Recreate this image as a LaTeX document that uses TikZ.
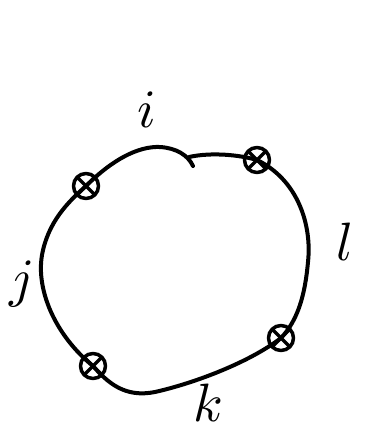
\documentclass[tikz,border=0pt]{standalone}
\usepackage{tikz}
\usetikzlibrary{shapes,positioning}
\newcommand{\biglbl}[1]{\scalebox{5.4}{$#1$}}

\begin{document}
\begin{tikzpicture}[x=1pt, y=-1pt, line cap=round, line join=round,
    loop/.style={line width=4pt},
    marker/.style={circle, draw, line width=3.5pt, minimum size=25pt, inner sep=0pt,
        path picture={\draw[line width=3.5pt] (path picture bounding box.south west) -- (path picture bounding box.north east);
                      \draw[line width=3.5pt] (path picture bounding box.north west) -- (path picture bounding box.south east);}},
    lbl/.style={inner sep=0pt}]
    \useasboundingbox (0,0) rectangle (372,434);

    % the four marked points
    \node[marker] (pij) at (86,186) {};
    \node[marker] (pil) at (257,160) {};
    \node[marker] (pkl) at (281,338) {};
    \node[marker] (pjk) at (93,366) {};

    % ends of the small break on top
    \coordinate (gapa) at (193,166);
    \coordinate (gapb) at (189,157);

    % the loop
    \draw[loop] (pij.center) .. controls (112,160) and (138,146) .. (160,147)
        .. controls (176,148) and (188,155) .. (gapa);
    \draw[loop] (gapb) .. controls (212,152) and (240,155) .. (pil.center);
    \draw[loop] (pil.center) .. controls (298,180) and (312,225) .. (308,262)
        .. controls (305,295) and (298,320) .. (pkl.center);
    \draw[loop] (pkl.center) .. controls (250,362) and (195,383) .. (155,392)
        .. controls (125,398) and (108,383) .. (pjk.center);
    \draw[loop] (pjk.center) .. controls (55,335) and (36,290) .. (42,255)
        .. controls (48,222) and (68,202) .. (pij.center);

    % labels
    \node[lbl] (li) at (147,110) {\biglbl{i}};
    \node[lbl] (lj) at (22,284) {\biglbl{j}};
    \node[lbl] (lk) at (208,403) {\biglbl{k}};
    \node[lbl] (ll) at (345,242) {\biglbl{l}};
\end{tikzpicture}
\end{document}
